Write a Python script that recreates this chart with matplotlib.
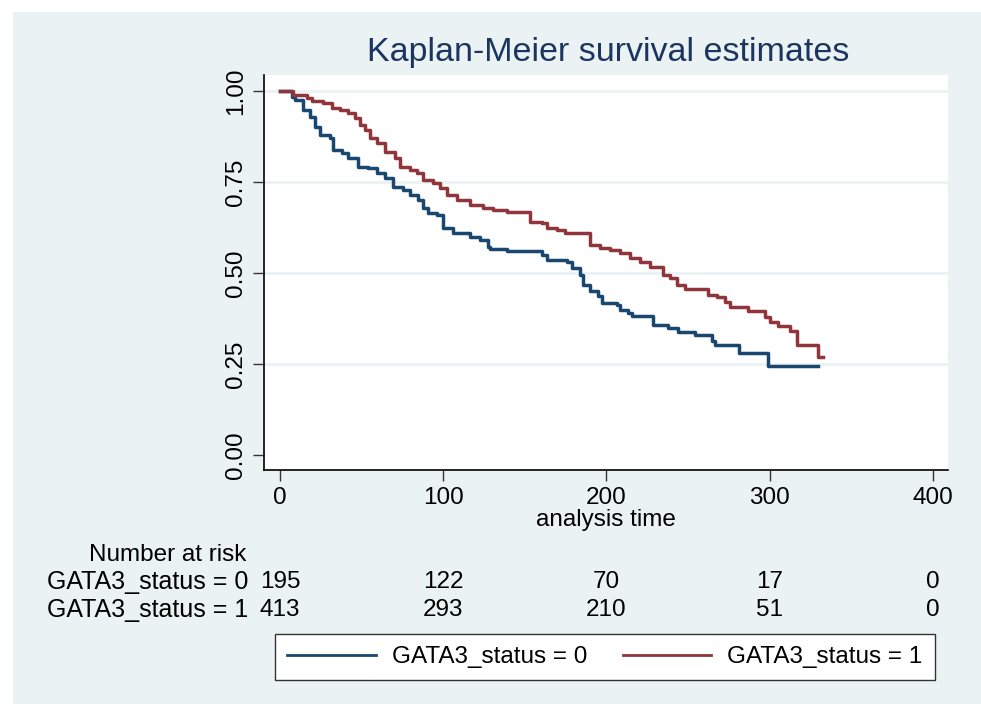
import numpy as np
import matplotlib.pyplot as plt
from matplotlib.patches import Rectangle
from matplotlib.lines import Line2D
import matplotlib.transforms as mtransforms

plt.rcParams['font.family'] = ['Liberation Sans', 'DejaVu Sans']

# Kaplan-Meier step points (time, survival after step)
t0 = [0, 7.2, 9.2, 14.1, 18.4, 21.4, 24.5, 30.6, 32.5, 38.0, 41.7, 47.8, 53.9,
      59.4, 64.3, 69.2, 75.3, 79.6, 84.5, 87.6, 90.7, 96.2, 99.8, 106.0, 116.4,
      122.5, 127.4, 128.6, 139.0, 160.5, 163.6, 175.8, 178.9, 183.8, 185.6,
      189.9, 194.8, 197.2, 206.4, 208.3, 213.2, 215.6, 228.5, 237.7, 243.8,
      254.2, 264.6, 266.5, 281.2, 298.9, 329.6]
s0 = [1.0, 0.984, 0.975, 0.948, 0.929, 0.901, 0.879, 0.871, 0.838, 0.830, 0.816,
      0.791, 0.788, 0.775, 0.761, 0.736, 0.728, 0.714, 0.701, 0.679, 0.665,
      0.659, 0.624, 0.610, 0.599, 0.591, 0.571, 0.566, 0.560, 0.549, 0.536,
      0.530, 0.514, 0.495, 0.467, 0.451, 0.437, 0.418, 0.412, 0.398, 0.390,
      0.382, 0.357, 0.349, 0.338, 0.330, 0.313, 0.302, 0.280, 0.245, 0.245]

t1 = [0, 8.0, 16.5, 19.6, 26.3, 31.9, 36.8, 41.7, 45.9, 49.0, 52.1, 55.1, 59.4,
      64.3, 70.4, 73.5, 79.6, 83.9, 87.6, 93.7, 98.0, 102.3, 108.4, 116.4,
      124.3, 130.5, 139.1, 153.1, 160.5, 163.6, 169.7, 174.6, 189.9, 196.0,
      202.1, 208.3, 214.4, 220.5, 226.6, 234.6, 238.9, 243.2, 248.1, 262.2,
      267.7, 272.6, 275.6, 286.7, 297.1, 300.2, 305.1, 312.4, 316.7, 329.6, 332.6]
s1 = [1.0, 0.989, 0.981, 0.973, 0.967, 0.953, 0.948, 0.940, 0.926, 0.907, 0.893,
      0.871, 0.857, 0.832, 0.816, 0.791, 0.783, 0.775, 0.755, 0.747, 0.734,
      0.714, 0.701, 0.687, 0.679, 0.673, 0.668, 0.640, 0.637, 0.624, 0.618,
      0.610, 0.577, 0.569, 0.563, 0.555, 0.541, 0.530, 0.516, 0.495, 0.486,
      0.467, 0.456, 0.440, 0.434, 0.420, 0.407, 0.396, 0.379, 0.365, 0.354,
      0.341, 0.302, 0.269, 0.269]

risk_times = [0, 100, 200, 300, 400]
risk0 = [195, 122, 70, 17, 0]
risk1 = [413, 293, 210, 51, 0]
group_labels = ['GATA3_status = 0', 'GATA3_status = 1']

navy = '#1a476f'
maroon = '#90353b'
bg = '#eaf2f3'

W, H = 981, 704
fig = plt.figure(figsize=(W / 100, H / 100), dpi=100)
fig.patch.set_facecolor('white')
fig.patches.append(Rectangle((13 / W, 0), 1 - 13 / W, 1 - 12 / H,
                             transform=fig.transFigure, facecolor=bg,
                             edgecolor='none', zorder=-10))

ax = fig.add_axes([264 / W, 1 - 470 / H, (948 - 264) / W, (470 - 75) / H])
ax.set_facecolor('white')

for y in [0.25, 0.5, 0.75, 1.0]:
    ax.axhline(y, color=bg, lw=2, zorder=1)

ax.step(t0, s0, where='post', color=navy, lw=2.5, zorder=3)
ax.step(t1, s1, where='post', color=maroon, lw=2.5, zorder=3)

ax.set_xlim(-9.8, 409.2)
ax.set_ylim(-0.041, 1.044)
ax.set_xticks(risk_times)
ax.set_yticks([0, 0.25, 0.5, 0.75, 1.0])
ax.set_yticklabels(['0.00', '0.25', '0.50', '0.75', '1.00'], rotation=90,
                   va='center')
ax.tick_params(labelsize=17.5, length=8, width=1, color='#333333', pad=4)
for side in ['top', 'right']:
    ax.spines[side].set_visible(False)
for side in ['left', 'bottom']:
    ax.spines[side].set_linewidth(1.2)

ax.set_xlabel('analysis time', fontsize=17.5, labelpad=0)
fig.text(608 / W, 1 - 52 / H, 'Kaplan-Meier survival estimates',
         fontsize=24.5, color='#1c3560', ha='center', va='center')

# Number at risk table
trans = mtransforms.blended_transform_factory(ax.transData, fig.transFigure)
fig.text(168 / W, 1 - 555 / H, 'Number at risk', fontsize=17.5,
         ha='center', va='center')
for row, (lab, vals) in enumerate(zip(group_labels, [risk0, risk1])):
    yy = 1 - (582 + 28 * row) / H
    fig.text(47 / W, yy, lab, fontsize=18, ha='left', va='center')
    for t, v in zip(risk_times, vals):
        ax.text(t, yy, str(v), transform=trans, fontsize=17.5,
                ha='center', va='center')

handles = [Line2D([], [], color=navy, lw=2), Line2D([], [], color=maroon, lw=2)]
leg = fig.legend(handles, group_labels, loc='center',
                 bbox_to_anchor=(605 / W, 1 - 657 / H), ncol=2,
                 fontsize=17.5, frameon=True, fancybox=False,
                 facecolor='white', framealpha=1,
                 edgecolor='#333333', handlelength=3.65, handletextpad=0.66,
                 columnspacing=1.45, borderpad=0.5)
leg.get_frame().set_linewidth(1)

fig.savefig('out.png', dpi=100)
